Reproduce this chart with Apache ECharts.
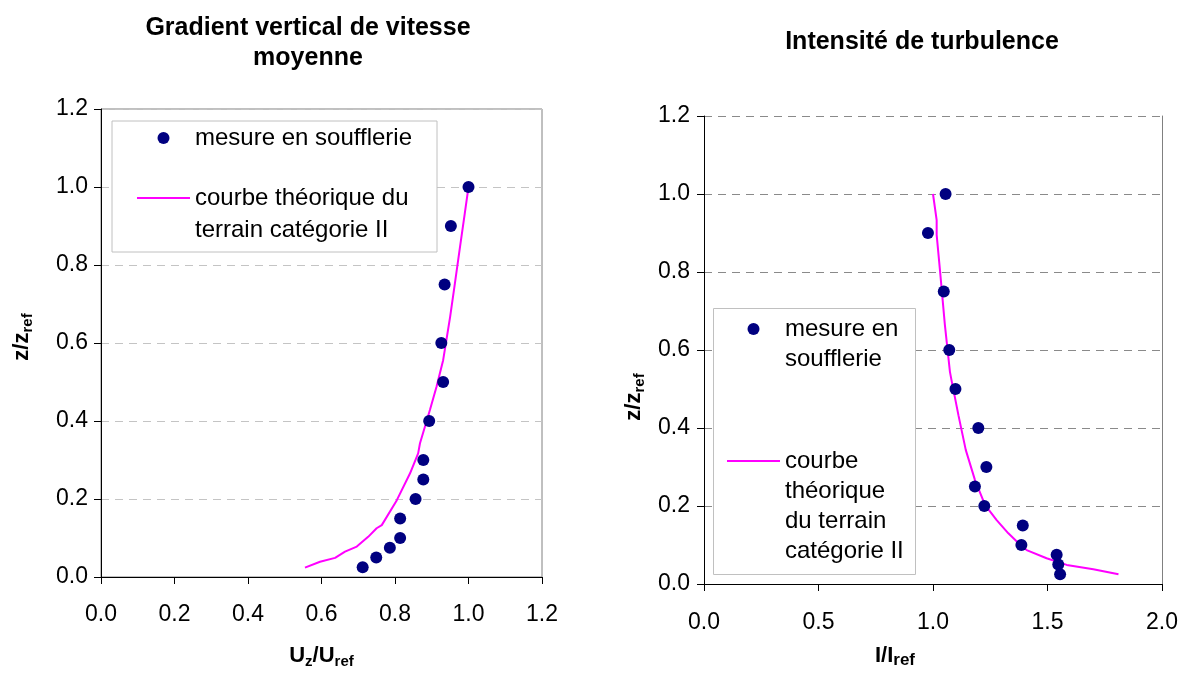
<!DOCTYPE html>
<html><head><meta charset="utf-8">
<script src="https://cdn.jsdelivr.net/npm/echarts/dist/echarts.min.js"></script>
<style>html,body{margin:0;padding:0;background:#fff}#c{width:1187px;height:677px}</style>
</head><body><div id="c"></div>
<script>
// ---- data ----
const zLevels = [1.0, 0.9, 0.75, 0.6, 0.5, 0.4, 0.3, 0.25, 0.2, 0.15, 0.1, 0.075, 0.05, 0.025];
const uMeasured = [1.0, 0.952, 0.935, 0.926, 0.931, 0.893, 0.877, 0.877, 0.856, 0.814, 0.814, 0.786, 0.749, 0.712];
const uTheoryU = [0.555, 0.596, 0.637, 0.664, 0.696, 0.727, 0.750, 0.764, 0.805, 0.841, 0.863, 0.868, 0.895, 0.913, 0.931, 0.950, 0.963, 0.977, 0.990, 1.0];
const uTheoryZ = [0.024, 0.039, 0.049, 0.065, 0.078, 0.103, 0.125, 0.133, 0.197, 0.266, 0.317, 0.343, 0.428, 0.488, 0.556, 0.667, 0.753, 0.847, 0.933, 1.0];
const iMeasured = [1.055, 0.978, 1.047, 1.071, 1.098, 1.198, 1.233, 1.183, 1.224, 1.392, 1.386, 1.540, 1.547, 1.555];
const iTheoryI = [1.0, 1.016, 1.016, 1.031, 1.052, 1.074, 1.082, 1.111, 1.143, 1.183, 1.227, 1.278, 1.329, 1.366, 1.409, 1.496, 1.584, 1.70, 1.81];
const iTheoryZ = [1.0, 0.933, 0.895, 0.801, 0.664, 0.544, 0.519, 0.433, 0.344, 0.267, 0.203, 0.164, 0.130, 0.109, 0.087, 0.066, 0.049, 0.038, 0.025];
const leftXTicks = ['0.0', '0.2', '0.4', '0.6', '0.8', '1.0', '1.2'];
const yTicks = ['0.0', '0.2', '0.4', '0.6', '0.8', '1.0', '1.2'];
const rightXTicks = ['0.0', '0.5', '1.0', '1.5', '2.0'];
const NAME_MES = 'mesure en soufflerie';
const NAME_TH = 'courbe théorique du terrain catégorie II';

const FONT = 'Liberation Sans, Arial, sans-serif';
const LINE_ICON = 'path://M0,0L53,0L53,2L0,2Z';
const subRich = {
  b: { fontSize: 22, fontWeight: 'bold', lineHeight: 26, color: '#000', fontFamily: FONT },
  s: { fontSize: 15, fontWeight: 'bold', lineHeight: 12, verticalAlign: 'bottom', color: '#000', fontFamily: FONT },
  r: { fontSize: 17, fontWeight: 'bold', lineHeight: 20, verticalAlign: 'bottom', color: '#000', fontFamily: FONT }
};

function xAxisCfg(grid, max, interval, labels, margin, name, gap, pad) {
  return {
    type: 'value', gridIndex: grid, min: 0, max: max, interval: interval,
    axisLine: { show: true, onZero: false, lineStyle: { color: '#000', width: 1 } },
    axisTick: { show: true, inside: false, length: 7, lineStyle: { color: '#000' } },
    axisLabel: { fontSize: 23, color: '#000', margin: margin, fontFamily: FONT,
      formatter: v => labels[Math.round(v / interval)] },
    splitLine: { show: false },
    name: name, nameLocation: 'middle', nameGap: gap, nameMoveOverlap: false,
    nameTextStyle: { rich: subRich, padding: pad }
  };
}
function yAxisCfg(grid, margin, gridColor, name, gap, pad) {
  return {
    type: 'value', gridIndex: grid, min: 0, max: 1.2, interval: 0.2,
    axisLine: { show: true, onZero: false, lineStyle: { color: '#000', width: 1 } },
    axisTick: { show: true, inside: false, length: 7, lineStyle: { color: '#000' } },
    axisLabel: { fontSize: 23, color: '#000', margin: margin, fontFamily: FONT,
      formatter: v => yTicks[Math.round(v / 0.2)] },
    splitLine: { show: true, lineStyle: { color: gridColor, type: [8, 6], width: 1 } },
    name: name, nameLocation: 'middle', nameRotate: 90, nameGap: gap, nameMoveOverlap: false,
    nameTextStyle: { rich: subRich, padding: pad }
  };
}

const option = {
  animation: false,
  backgroundColor: '#fff',
  textStyle: { fontFamily: FONT },
  title: [
    { text: 'Gradient vertical de vitesse\nmoyenne', left: 308, top: 13, textAlign: 'center', padding: 0,
      textStyle: { fontSize: 25, fontWeight: 'bold', lineHeight: 30, color: '#000', fontFamily: FONT } },
    { text: 'Intensité de turbulence', left: 922, top: 27, textAlign: 'center', padding: 0,
      textStyle: { fontSize: 25, fontWeight: 'bold', lineHeight: 30, color: '#000', fontFamily: FONT } }
  ],
  grid: [
    { left: 101, top: 109, width: 441, height: 468, show: true, borderColor: '#808080', borderWidth: 1,
      backgroundColor: 'transparent', containLabel: false, outerBoundsMode: 'none' },
    { left: 704, top: 116, width: 458, height: 468, show: false, containLabel: false, outerBoundsMode: 'none' }
  ],
  xAxis: [
    xAxisCfg(0, 1.2, 0.2, leftXTicks, 26, '{b|U}{s|z}{b|/U}{s|ref}', 66, [0, 0, 0, 0]),
    xAxisCfg(1, 2.0, 0.5, rightXTicks, 27, '{b|I/I}{r|ref}', 59, [0, 76, 0, 0])
  ],
  yAxis: [
    yAxisCfg(0, 13, '#c4c4c4', '{b|z/z}{s|ref}', 66, [0, 0, 0, 12]),
    yAxisCfg(1, 14, '#8a8a8a', '{b|z/z}{s|ref}', 57, [0, 94, 0, 0]),
    { type: 'value', gridIndex: 1, position: 'right', min: 0, max: 1.2, interval: 0.2,
      axisLine: { show: true, onZero: false, lineStyle: { color: '#808080', width: 1 } },
      axisTick: { show: false }, axisLabel: { show: false }, splitLine: { show: false } }
  ],
  graphic: [
    { type: 'rect', z: 4, shape: { x: 713.5, y: 308.5, width: 202, height: 266 },
      style: { fill: '#fff', stroke: '#c0c0c0', lineWidth: 1 } }
  ],
  legend: [
    { left: 112, top: 121, orient: 'vertical', itemWidth: 53, itemHeight: 12, itemGap: -4, z: 5,
      padding: [1, 25, 6, 25], borderColor: '#c0c0c0', borderWidth: 1, backgroundColor: '#fff',
      selectedMode: false,
      textStyle: { fontSize: 24, lineHeight: 32, color: '#000', fontFamily: FONT,
        rich: { t: { fontSize: 24, lineHeight: 32, color: '#000', fontFamily: FONT } } },
      data: [
        { name: NAME_MES, icon: 'circle' },
        { name: NAME_TH, icon: LINE_ICON, textStyle: { padding: [32, 0, 0, 0] } }
      ],
      formatter: n => n === NAME_MES ? '{t|mesure en soufflerie}' : '{t|courbe théorique du}\n{t|terrain catégorie II}' },
    { left: 713, top: 284, orient: 'vertical', itemWidth: 53, itemHeight: 12, itemGap: -18, z: 5,
      padding: [0, 10, 0, 14], borderWidth: 0, backgroundColor: 'transparent',
      selectedMode: false,
      textStyle: { fontSize: 24, lineHeight: 30, color: '#000', fontFamily: FONT,
        rich: { t: { fontSize: 24, lineHeight: 30, color: '#000', fontFamily: FONT } } },
      data: [
        { name: NAME_MES, icon: 'circle', textStyle: { padding: [30, 0, 0, 0] } },
        { name: NAME_TH, icon: LINE_ICON, textStyle: { padding: [90, 0, 0, 0] } }
      ],
      formatter: n => n === NAME_MES ? '{t|mesure en}\n{t|soufflerie}' : '{t|courbe}\n{t|théorique}\n{t|du terrain}\n{t|catégorie II}' }
  ],
  series: [
    { name: NAME_TH, type: 'line', xAxisIndex: 0, yAxisIndex: 0, color: '#ff00ff', symbol: 'none',
      lineStyle: { color: '#ff00ff', width: 2 }, z: 2,
      data: uTheoryU.map((u, i) => [u, uTheoryZ[i]]) },
    { name: NAME_MES, type: 'scatter', xAxisIndex: 0, yAxisIndex: 0, color: '#000080', symbol: 'circle',
      symbolSize: 12, itemStyle: { color: '#000080', opacity: 1 }, z: 3,
      data: uMeasured.map((u, i) => [u, zLevels[i]]) },
    { name: NAME_TH, type: 'line', xAxisIndex: 1, yAxisIndex: 1, color: '#ff00ff', symbol: 'none',
      lineStyle: { color: '#ff00ff', width: 2 }, z: 2,
      data: iTheoryI.map((v, i) => [v, iTheoryZ[i]]) },
    { name: NAME_MES, type: 'scatter', xAxisIndex: 1, yAxisIndex: 1, color: '#000080', symbol: 'circle',
      symbolSize: 12, itemStyle: { color: '#000080', opacity: 1 }, z: 3,
      data: iMeasured.map((v, i) => [v, zLevels[i]]) }
  ]
};
const chart = echarts.init(document.getElementById('c'), null, { renderer: 'canvas' });
chart.setOption(option);
</script>
</body></html>
